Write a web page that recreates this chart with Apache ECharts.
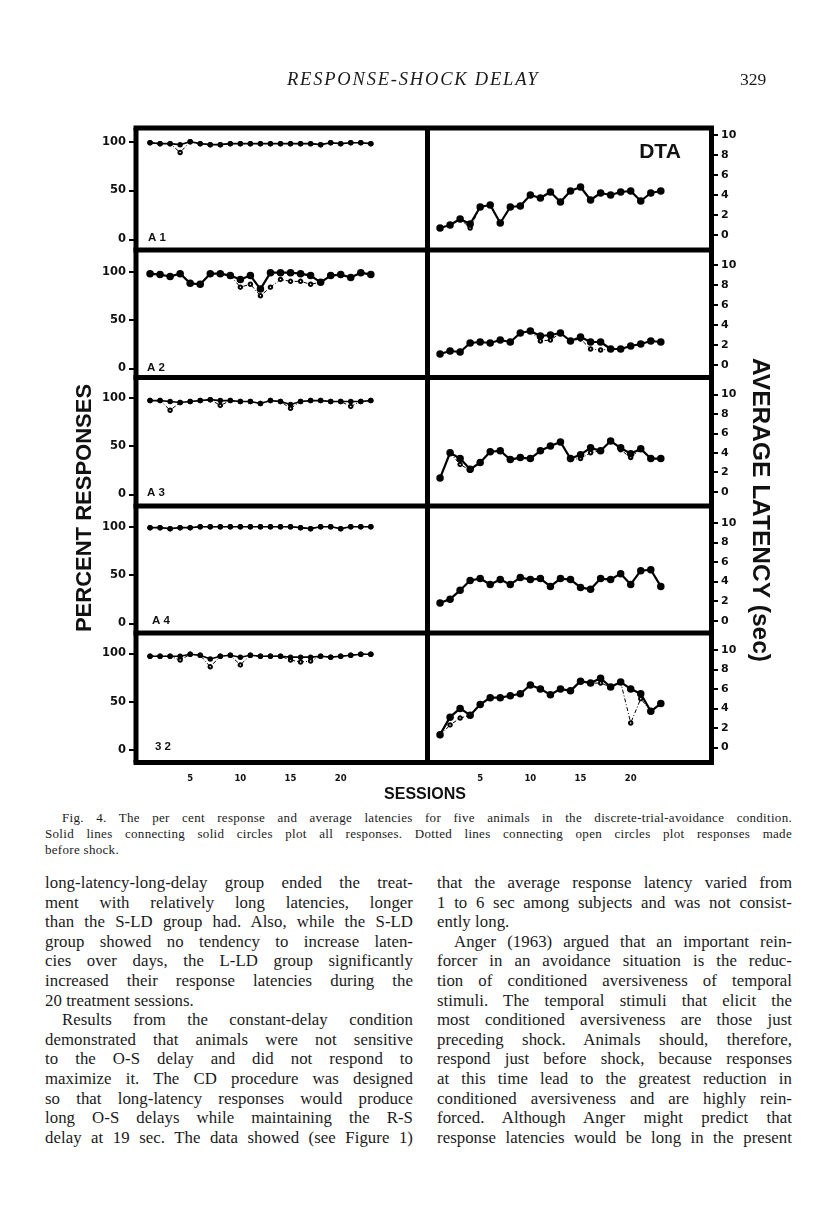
<!DOCTYPE html>
<html><head><meta charset="utf-8">
<script src="https://cdn.jsdelivr.net/npm/echarts@6/dist/echarts.min.js"></script>
<style>
html,body{margin:0;padding:0;background:#fff;}
#page{position:relative;width:816px;height:1207px;overflow:hidden;background:#fff;}
#chart{position:absolute;left:0;top:0;width:816px;height:810px;}
.t{position:absolute;font-family:'Liberation Serif','DejaVu Serif',serif;color:#1a1a1a;}
.cap{position:absolute;left:45px;top:810px;width:747px;font-family:'Liberation Serif',serif;font-size:13px;letter-spacing:0.3px;line-height:16px;color:#1a1a1a;}
.cap div,.col div{text-align:justify;text-align-last:justify;}
.cap div.last,.col div.last{text-align-last:left;}
.col{position:absolute;font-family:'Liberation Serif',serif;font-size:16.8px;letter-spacing:0.05px;line-height:19.6px;color:#1a1a1a;}
.ind{padding-left:17px;}
</style></head>
<body><div id="page">
<div id="chart"></div>
<div class="t" style="left:287px;top:69px;font-size:18.5px;font-style:italic;letter-spacing:1.8px;">RESPONSE-SHOCK DELAY</div>
<div class="t" style="left:740px;top:69px;font-size:17.5px;">329</div>
<div class="cap">
<div style="padding-left:17px;">Fig. 4. The per cent response and average latencies for five animals in the discrete-trial-avoidance condition.</div>
<div>Solid lines connecting solid circles plot all responses. Dotted lines connecting open circles plot responses made</div>
<div class="last">before shock.</div>
</div>
<div class="col" style="left:45px;top:873px;width:368px;">
<div>long-latency-long-delay group ended the treat-</div>
<div>ment with relatively long latencies, longer</div>
<div>than the S-LD group had. Also, while the S-LD</div>
<div>group showed no tendency to increase laten-</div>
<div>cies over days, the L-LD group significantly</div>
<div>increased their response latencies during the</div>
<div class="last">20 treatment sessions.</div>
<div class="ind">Results from the constant-delay condition</div>
<div>demonstrated that animals were not sensitive</div>
<div>to the O-S delay and did not respond to</div>
<div>maximize it. The CD procedure was designed</div>
<div>so that long-latency responses would produce</div>
<div>long O-S delays while maintaining the R-S</div>
<div>delay at 19 sec. The data showed (see Figure 1)</div>
</div>
<div class="col" style="left:437px;top:873px;width:355px;">
<div>that the average response latency varied from</div>
<div>1 to 6 sec among subjects and was not consist-</div>
<div class="last">ently long.</div>
<div class="ind">Anger (1963) argued that an important rein-</div>
<div>forcer in an avoidance situation is the reduc-</div>
<div>tion of conditioned aversiveness of temporal</div>
<div>stimuli. The temporal stimuli that elicit the</div>
<div>most conditioned aversiveness are those just</div>
<div>preceding shock. Animals should, therefore,</div>
<div>respond just before shock, because responses</div>
<div>at this time lead to the greatest reduction in</div>
<div>conditioned aversiveness and are highly rein-</div>
<div>forced. Although Anger might predict that</div>
<div>response latencies would be long in the present</div>
</div>
</div>
<script>
// ---- data ----
const sessions = [1,2,3,4,5,6,7,8,9,10,11,12,13,14,15,16,17,18,19,20,21,22,23];
const sessionTicks = [5,10,15,20];
const animals = ['A1','A2','A3','A4','32'];
const condition = 'DTA';

const a1Pct    = [99,98,98,97,100,98,97,97,98,98,98,98,98,98,98,98,98,97,99,98,99,99,98];
const a1PctPre = [99,98,98,89,100,98,97,97,98,98,98,98,98,98,98,98,98,97,99,98,99,99,98];
const a1Lat    = [0.7,1.0,1.6,1.1,2.8,3.0,1.2,2.8,2.9,4.0,3.7,4.3,3.3,4.4,4.8,3.5,4.2,4.0,4.3,4.4,3.4,4.2,4.4];
const a1LatPre = [0.7,1.0,1.6,0.7,2.8,3.0,1.2,2.8,2.9,4.0,3.7,4.3,3.3,4.4,4.8,3.5,4.2,4.0,4.3,4.4,3.4,4.2,4.4];

const a2Pct    = [98,97,95,98,88,87,98,98,96,92,96,82,99,99,99,98,96,89,96,97,94,99,97];
const a2PctPre = [98,97,95,98,88,87,98,98,96,84,87,75,84,92,90,90,87,89,96,97,94,99,97];
const a2Lat    = [1.1,1.4,1.3,2.2,2.3,2.2,2.5,2.3,3.2,3.4,2.9,3.0,3.2,2.4,2.8,2.3,2.3,1.6,1.6,1.9,2.1,2.4,2.3];
const a2LatPre = [1.1,1.4,1.3,2.2,2.3,2.2,2.5,2.3,3.2,3.4,2.4,2.5,3.2,2.4,2.6,1.6,1.5,1.6,1.6,1.9,2.1,2.4,2.3];

const a3Pct    = [97,97,96,95,96,97,98,97,97,96,96,94,97,96,93,96,97,97,96,96,96,96,97];
const a3PctPre = [97,97,87,95,96,97,98,92,97,96,96,94,97,96,89,96,97,97,96,96,91,96,97];
const a3Lat    = [1.4,4.0,3.4,2.3,3.0,4.1,4.2,3.3,3.5,3.4,4.2,4.7,5.1,3.4,3.8,4.5,4.2,5.2,4.5,3.9,4.4,3.4,3.4];
const a3LatPre = [1.4,4.0,2.8,2.2,3.0,4.1,4.2,3.3,3.5,3.4,4.2,4.7,5.1,3.3,3.4,4.0,4.2,5.2,4.3,3.5,4.4,3.4,3.4];

const a4Pct    = [99,99,98,99,99,100,100,100,100,100,100,100,100,100,100,99,98,100,100,98,100,100,100];
const a4PctPre = [99,99,98,99,99,100,100,100,100,100,100,100,100,100,100,99,98,100,100,98,100,100,100];
const a4Lat    = [1.8,2.2,3.1,4.1,4.3,3.7,4.2,3.7,4.4,4.2,4.3,3.5,4.3,4.2,3.4,3.2,4.3,4.2,4.8,3.7,5.1,5.2,3.5];
const a4LatPre = [1.8,2.2,3.1,4.1,4.3,3.7,4.2,3.7,4.4,4.2,4.3,3.5,4.3,4.2,3.4,3.2,4.3,4.2,4.8,3.7,5.1,5.2,3.5];

const s32Pct    = [97,97,97,97,99,98,94,97,98,96,98,97,97,97,96,96,96,97,96,97,98,99,99];
const s32PctPre = [97,97,97,93,99,98,86,97,98,88,98,97,97,97,93,91,92,97,96,97,98,99,99];
const s32Lat    = [1.3,3.1,4.0,3.3,4.4,5.1,5.1,5.3,5.5,6.4,6.0,5.4,6.0,5.8,6.8,6.6,7.1,6.2,6.7,6.0,5.5,3.7,4.5];
const s32LatPre = [1.2,2.3,3.0,3.3,4.4,5.1,5.1,5.3,5.5,6.4,6.0,5.4,6.0,5.8,6.8,6.6,6.6,6.2,6.7,2.5,5.0,3.7,4.5];

const pctSolid = [a1Pct, a2Pct, a3Pct, a4Pct, s32Pct];
const pctPre   = [a1PctPre, a2PctPre, a3PctPre, a4PctPre, s32PctPre];
const latSolid = [a1Lat, a2Lat, a3Lat, a4Lat, s32Lat];
const latPre   = [a1LatPre, a2LatPre, a3LatPre, a4LatPre, s32LatPre];

const pctTitle = 'PERCENT RESPONSES';
const latTitle = 'AVERAGE LATENCY (sec)';
const xTitle = 'SESSIONS';

// ---- layout ----
const leftRows  = [[141.7,97.6],[271.7,96.6],[397.7,96.6],[526.7,96.6],[653.3,96.7]];
const rightRows = [[135,100],[265,100],[394.3,97.4],[522.7,98],[650,97.3]];
const labelPos  = [[148,238],[147,368],[147,493],[152,621],[155,747]];
const hLines = [128,250,377.5,506,633,762.5];
const vLines = [136,427.5,711.5];

const tickFont = {fontFamily:'DejaVu Sans, Liberation Sans, sans-serif', fontWeight:'bold', color:'#111'};
const grids=[], xAxes=[], yAxes=[], series=[];
const pair = arr => sessions.map((s,i)=>[s,arr[i]]);

for (let r=0;r<5;r++){
  const last = r===4;
  [['L',leftRows[r],140,281],['R',rightRows[r],430,281]].forEach(([side,row,left,width])=>{
    const gi = grids.length;
    grids.push({left:left, top:row[0], width:width, height:row[1]});
    xAxes.push({type:'value', gridIndex:gi, min:0, max:28, interval:5,
      axisLine:{show:false, onZero:false}, axisTick:{show:false}, splitLine:{show:false},
      axisLabel:{show:last, margin: side==='L'?24:27, fontSize:8.5, ...tickFont,
        formatter:v=> sessionTicks.includes(v)? String(v):''}});
    if (side==='L'){
      yAxes.push({type:'value', gridIndex:gi, min:0, max:100, interval:50, position:'left', offset:4,
        axisLine:{show:false, onZero:false}, splitLine:{show:false},
        axisTick:{show:true, length:7, lineStyle:{color:'#000', width:2}},
        axisLabel:{margin:10, fontSize:11.5, ...tickFont}});
    } else {
      yAxes.push({type:'value', gridIndex:gi, min:0, max:10, interval:2, position:'right',
        axisLine:{show:false, onZero:false}, splitLine:{show:false},
        axisTick:{show:true, length:7, lineStyle:{color:'#000', width:2}},
        axisLabel:{margin:10, fontSize:11, ...tickFont}});
    }
    const solid = side==='L'? pctSolid[r] : latSolid[r];
    const pre   = side==='L'? pctPre[r]   : latPre[r];
    const big = side==='R' || r===1;
    series.push({type:'line', xAxisIndex:gi, yAxisIndex:gi, data:pair(pre), clip:false, z:2,
      symbol:'emptyCircle', symbolSize:3.5, silent:true,
      itemStyle:{color:'#000', borderColor:'#000', borderWidth:1},
      lineStyle:{color:'#000', width:1, type:[4,2,1,2]}});
    series.push({type:'line', xAxisIndex:gi, yAxisIndex:gi, data:pair(solid), clip:false, z:3,
      symbol:'circle', symbolSize: big?7.5:5.5, silent:true,
      itemStyle:{color:'#000'}, lineStyle:{color:'#000', width: big?2.2:1.6}});
  });
}

const graphic = [];
hLines.forEach(y=>graphic.push({type:'line', z:10, shape:{x1:vLines[0]-2.5,y1:y,x2:vLines[2]+2.5,y2:y}, style:{stroke:'#000', lineWidth:5}}));
vLines.forEach(x=>graphic.push({type:'line', z:10, shape:{x1:x,y1:hLines[0],x2:x,y2:hLines[5]}, style:{stroke:'#000', lineWidth:5}}));
animals.forEach((a,i)=>graphic.push({type:'text', z:11, x:labelPos[i][0], y:labelPos[i][1],
  style:{text:a.split('').join(' '), fontSize:11.5, fontWeight:'bold', fontFamily:'Liberation Sans, sans-serif', fill:'#111', align:'left', verticalAlign:'middle'}}));
graphic.push({type:'text', z:11, x:660, y:152, style:{text:condition, fontSize:21, fontWeight:'bold', fontFamily:'Liberation Sans, sans-serif', fill:'#111', align:'center', verticalAlign:'middle'}});
graphic.push({type:'text', z:11, x:85, y:508, rotation:Math.PI/2, style:{text:pctTitle, fontSize:22, fontWeight:'bold', fontFamily:'Liberation Sans, sans-serif', fill:'#111', align:'center', verticalAlign:'middle'}});
graphic.push({type:'text', z:11, x:760, y:510, rotation:-Math.PI/2, style:{text:latTitle, fontSize:24.5, fontWeight:'bold', fontFamily:'Liberation Sans, sans-serif', fill:'#111', align:'center', verticalAlign:'middle'}});
graphic.push({type:'text', z:11, x:425, y:795, style:{text:xTitle, fontSize:16, fontWeight:'bold', fontFamily:'Liberation Sans, sans-serif', fill:'#111', align:'center', verticalAlign:'middle'}});

const chart = echarts.init(document.getElementById('chart'), null, {renderer:'canvas'});
chart.setOption({backgroundColor:'#fff', animation:false, grid:grids, xAxis:xAxes, yAxis:yAxes, series:series, graphic:graphic});
</script>
</body></html>
